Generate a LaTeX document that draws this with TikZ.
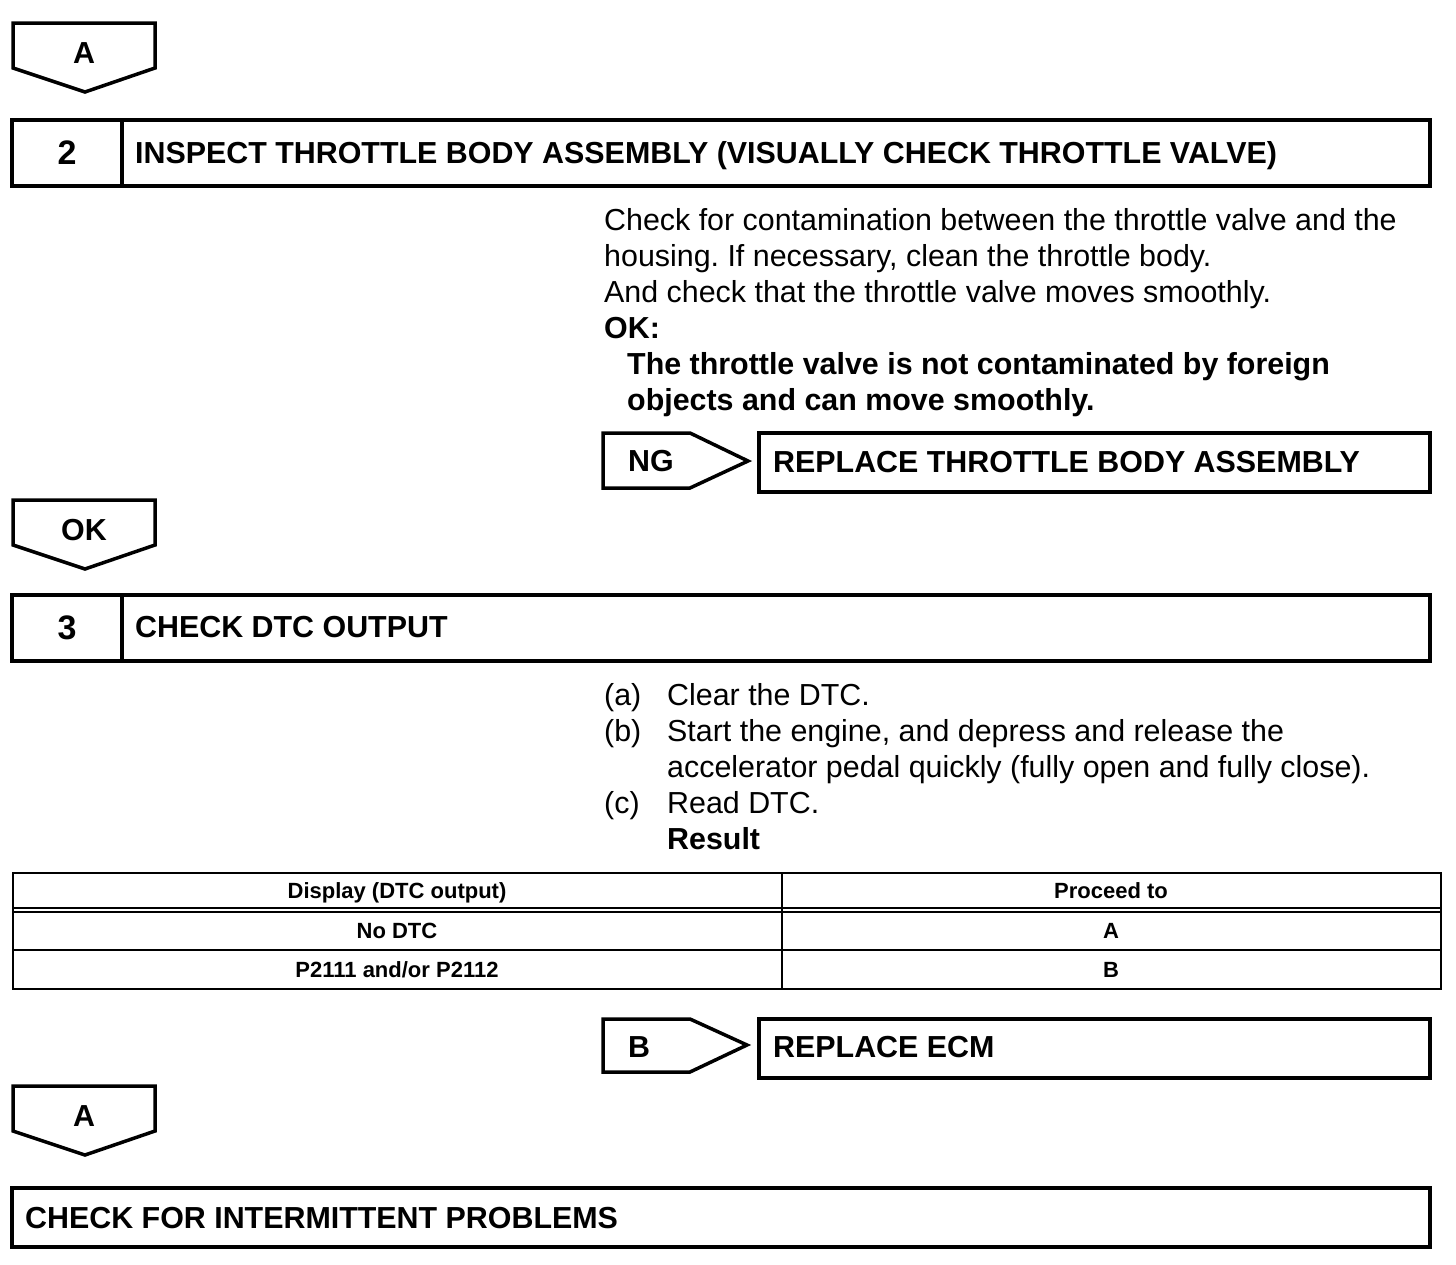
\documentclass[tikz,border=0pt]{standalone}
\usepackage{fontspec}
\setmainfont{Liberation Sans}
\usetikzlibrary{calc}
\frenchspacing

\tikzset{
    boxline/.style={line width=3.5pt},
    tagline/.style={line width=3.5pt, line join=miter},
    gridline/.style={line width=2pt},
    plain/.style={anchor=base west, inner sep=0pt, font=\fontsize{30.4}{36}\selectfont},
    heavy/.style={plain, font=\fontsize{30.4}{36}\selectfont\bfseries},
    stepno/.style={anchor=base, inner sep=0pt, font=\fontsize{34}{40}\selectfont\bfseries},
    cell/.style={anchor=base, inner sep=0pt, font=\fontsize{22}{26}\selectfont\bfseries}
}

\begin{document}
\begin{tikzpicture}[x=1pt, y=-1pt]
    \useasboundingbox (0,0) rectangle (1456,1264);

    % Pointers down the left side
    \foreach \y/\t/\n in {23/A/goA, 500/OK/goOK, 1086/A/goEnd} {
        \draw[tagline] (13,\y) -- (155,\y) -- (155,\y+45) -- (85,\y+69) -- (13,\y+45) -- cycle;
        \node[heavy, anchor=base] (\n) at (84,\y+40) {\t};
    }

    % Step 2
    \draw[boxline] (12,120) rectangle (1430,186);
    \draw[boxline] (122,120) -- (122,186);
    \node[stepno] (no2) at (67,164) {2};
    \node[heavy] (title2) at (135,163) {INSPECT THROTTLE BODY ASSEMBLY (VISUALLY CHECK THROTTLE VALVE)};

    \node[plain] (c1) at (604,230) {Check for contamination between the throttle valve and the};
    \node[plain] (c2) at (604,266) {housing. If necessary, clean the throttle body.};
    \node[plain] (c3) at (604,302) {And check that the throttle valve moves smoothly.};
    \node[heavy] (ok) at (604,338) {OK:};
    \node[heavy] (ok1) at (627,374) {The throttle valve is not contaminated by foreign};
    \node[heavy] (ok2) at (627,410) {objects and can move smoothly.};

    % NG branch
    \draw[tagline] (603,433) -- (690,433) -- (748,461) -- (690,488) -- (603,488) -- cycle;
    \node[heavy] (ng) at (628,471) {NG};
    \draw[boxline] (759,433) rectangle (1430,492);
    \node[heavy] (rtb) at (773,472) {REPLACE THROTTLE BODY ASSEMBLY};

    % Step 3
    \draw[boxline] (12,595) rectangle (1430,661);
    \draw[boxline] (122,595) -- (122,661);
    \node[stepno] (no3) at (67,639) {3};
    \node[heavy] (title3) at (135,637) {CHECK DTC OUTPUT};

    \node[plain] (la) at (604,705) {(a)};
    \node[plain] (sa) at (667,705) {Clear the DTC.};
    \node[plain] (lb) at (604,741) {(b)};
    \node[plain] (sb1) at (667,741) {Start the engine, and depress and release the};
    \node[plain] (sb2) at (667,777) {accelerator pedal quickly (fully open and fully close).};
    \node[plain] (lc) at (604,813) {(c)};
    \node[plain] (sc) at (667,813) {Read DTC.};
    \node[heavy] (res) at (667,849) {Result};

    % Result table
    \draw[line width=2.5pt] (13,873) rectangle (1441,989);
    \draw[gridline] (782,873) -- (782,989);
    \draw[gridline] (13,908) -- (1441,908);
    \draw[gridline] (13,912) -- (1441,912);
    \draw[gridline] (13,950) -- (1441,950);
    \node[cell] (h1) at (397,898) {Display (DTC output)};
    \node[cell] (h2) at (1111,898) {Proceed to};
    \node[cell] (r1a) at (397,938) {No DTC};
    \node[cell] (r1b) at (1111,938) {A};
    \node[cell] (r2a) at (397,977) {P2111 and/or P2112};
    \node[cell] (r2b) at (1111,977) {B};

    % B branch
    \draw[tagline] (603,1019) -- (690,1019) -- (747,1045) -- (690,1072) -- (603,1072) -- cycle;
    \node[heavy] (bb) at (628,1057) {B};
    \draw[boxline] (759,1019) rectangle (1430,1078);
    \node[heavy] (ecm) at (773,1057) {REPLACE ECM};

    % Last step
    \draw[boxline] (12,1188) rectangle (1430,1247);
    \node[heavy] (last) at (25,1228) {CHECK FOR INTERMITTENT PROBLEMS};
\end{tikzpicture}
\end{document}
